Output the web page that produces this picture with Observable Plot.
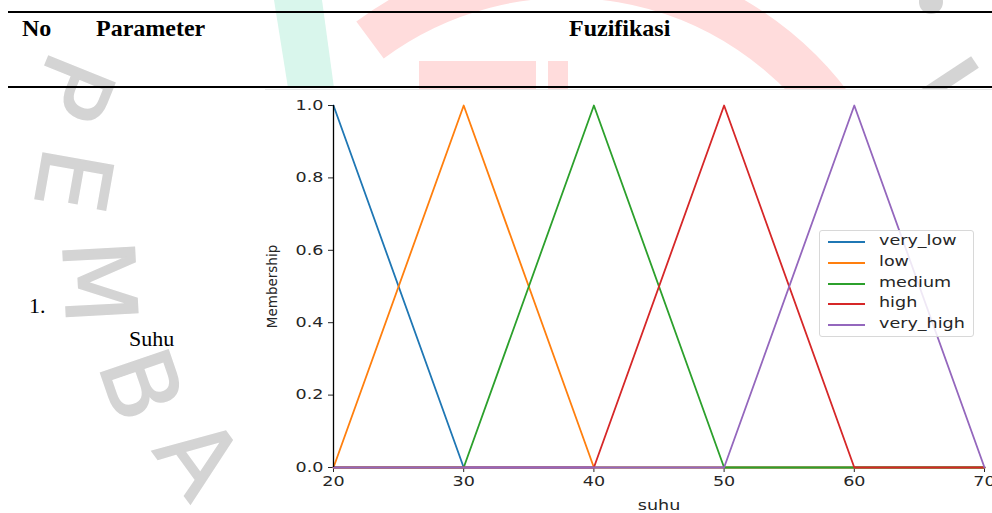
<!DOCTYPE html>
<html>
<head>
<meta charset="utf-8">
<script src="https://cdn.jsdelivr.net/npm/d3@7"></script>
<script src="https://cdn.jsdelivr.net/npm/@observablehq/plot@0.6"></script>
<style>
  body { margin: 0; background: #fff; }
  #page { position: relative; width: 992px; height: 513px; overflow: hidden; background: #fff; }
  #deco { position: absolute; left: 0; top: 0; }
  .rule { position: absolute; left: 8px; width: 984px; height: 2px; background: #000; }
  .ser { position: absolute; font-family: "Liberation Serif", "Times New Roman", serif; line-height: 1; white-space: nowrap; color: #000; }
  .wm { position: absolute; font-family: "DejaVu Sans", sans-serif; font-size: 98px; color: #d4d4d4; line-height: 0.75; white-space: nowrap; -webkit-text-stroke: 1.5px #d4d4d4; }
  #chart { position: absolute; left: 265px; top: 89px; width: 727px; height: 424px; background: #fff; border-top: 1px solid #e6e6e6; box-sizing: border-box; }
  #legend { position: absolute; left: 819px; top: 230px; width: 155px; height: 107px; box-sizing: border-box;
            border: 1px solid #d8d8d8; border-radius: 3px; background: rgba(255,255,255,0.85); }
  .lg-line { position: absolute; left: 8px; width: 37px; height: 2px; }
  .lg-text { position: absolute; left: 59px; font-family: "DejaVu Sans", sans-serif; font-size: 13.5px; color: #262626;
             line-height: 1; transform: scaleX(1.3); transform-origin: left center; white-space: nowrap; }
</style>
</head>
<body>
<div id="page">
  <svg id="deco" width="992" height="513">
    <path d="M274,0 L322,0 L334,88 L288,88 Z" fill="#d9f6ec"/>
    <path d="M370,40 A330,330 0 0 1 840,120" fill="none" stroke="#ffdcdc" stroke-width="46"/>
    <rect x="419" y="61" width="117" height="28" fill="#ffdcdc"/>
    <rect x="548" y="61" width="20" height="28" fill="#ffdcdc"/>
    <circle cx="931" cy="2" r="12" fill="#d4d4d4"/>
    <path d="M975,62 L925,95" stroke="#d4d4d4" stroke-width="14"/>
  </svg>
  <div class="wm" style="left:72px;top:87px;transform:translate(-50%,-50%) rotate(112deg)">P</div>
  <div class="wm" style="left:72px;top:180px;transform:translate(-50%,-50%) rotate(100deg)">E</div>
  <div class="wm" style="left:98px;top:282px;transform:translate(-50%,-50%) rotate(87deg)">M</div>
  <div class="wm" style="left:140px;top:385px;transform:translate(-50%,-50%) rotate(71deg)">B</div>
  <div class="wm" style="left:198px;top:458px;transform:translate(-50%,-50%) rotate(54deg)">A</div>

  <div class="rule" style="top:11px"></div>
  <div class="rule" style="top:86px"></div>
  <div class="ser" style="left:22px;top:16px;font-size:24px;font-weight:bold">No</div>
  <div class="ser" style="left:96px;top:16px;font-size:24px;font-weight:bold">Parameter</div>
  <div class="ser" style="left:569px;top:16px;font-size:24px;font-weight:bold">Fuzifikasi</div>
  <div class="ser" style="left:29px;top:295px;font-size:22px">1.</div>
  <div class="ser" style="left:129px;top:328px;font-size:22px">Suhu</div>

  <div id="chart"></div>
  <div id="legend"></div>
</div>
<script>
// ---- data ----
const seriesNames = ["very_low", "low", "medium", "high", "very_high"];
const seriesColors = ["#1f77b4", "#ff7f0e", "#2ca02c", "#d62728", "#9467bd"];
const suhu = [20, 30, 40, 50, 60, 70];
const veryLow = [1, 0, 0, 0, 0, 0];
const low = [0, 1, 0, 0, 0, 0];
const medium = [0, 0, 1, 0, 0, 0];
const high = [0, 0, 0, 1, 0, 0];
const veryHigh = [0, 0, 0, 0, 1, 0];
const xTicks = [20, 30, 40, 50, 60, 70];
const yTicks = [0, 0.2, 0.4, 0.6, 0.8, 1.0];
const xLabel = "suhu";
const yLabel = "Membership";

const seriesValues = [veryLow, low, medium, high, veryHigh];
const lineMarks = seriesValues.map((vals, i) =>
  Plot.line(suhu.map((x, j) => ({x, y: vals[j]})), {x: "x", y: "y", stroke: seriesColors[i], strokeWidth: 1.8})
);

const chart = Plot.plot({
  width: 727,
  height: 423,
  marginLeft: 68,
  marginRight: 8,
  marginTop: 15,
  marginBottom: 46,
  style: {fontFamily: "DejaVu Sans, sans-serif", fontSize: "13.5px", color: "#262626", background: "transparent", overflow: "visible"},
  x: {domain: [20, 70], ticks: xTicks, tickFormat: d => String(d), tickSize: 5, tickPadding: 4,
      label: xLabel, labelArrow: "none", labelAnchor: "center", labelOffset: 42},
  y: {domain: [0, 1], ticks: yTicks, tickFormat: d => d.toFixed(1), tickSize: 5, tickPadding: 5,
      label: yLabel, labelArrow: "none", labelAnchor: "center", labelOffset: 66},
  marks: [
    Plot.ruleY([0], {stroke: "#000", strokeWidth: 1.2}),
    ...lineMarks,
    Plot.ruleX([20], {y1: 0, y2: 1, stroke: "#000", strokeWidth: 1.3})
  ]
});
document.getElementById("chart").appendChild(chart);

// strip any automatic label arrows, then stretch text horizontally as in the reference
chart.querySelectorAll("text").forEach(t => {
  const nodes = [t, ...t.querySelectorAll("tspan")];
  nodes.forEach(n => {
    n.childNodes.forEach(c => {
      if (c.nodeType === 3) c.nodeValue = c.nodeValue.replace(/[\u2190-\u2193]\s*/g, "").replace(/\s*[\u2190-\u2193]/g, "");
    });
  });
  if (t.textContent.trim() === yLabel) return;
  const L = t.getComputedTextLength();
  if (L > 0) {
    t.setAttribute("textLength", (L * 1.3).toFixed(2));
    t.setAttribute("lengthAdjust", "spacingAndGlyphs");
  }
});

// legend
const legend = document.getElementById("legend");
const legendY = [11, 32, 52.5, 73, 94];
seriesNames.forEach((name, i) => {
  const ln = document.createElement("div");
  ln.className = "lg-line";
  ln.style.top = (legendY[i] - 1) + "px";
  ln.style.background = seriesColors[i];
  legend.appendChild(ln);
  const tx = document.createElement("div");
  tx.className = "lg-text";
  tx.style.top = (legendY[i] - 8) + "px";
  tx.textContent = name;
  legend.appendChild(tx);
});
</script>
</body>
</html>
